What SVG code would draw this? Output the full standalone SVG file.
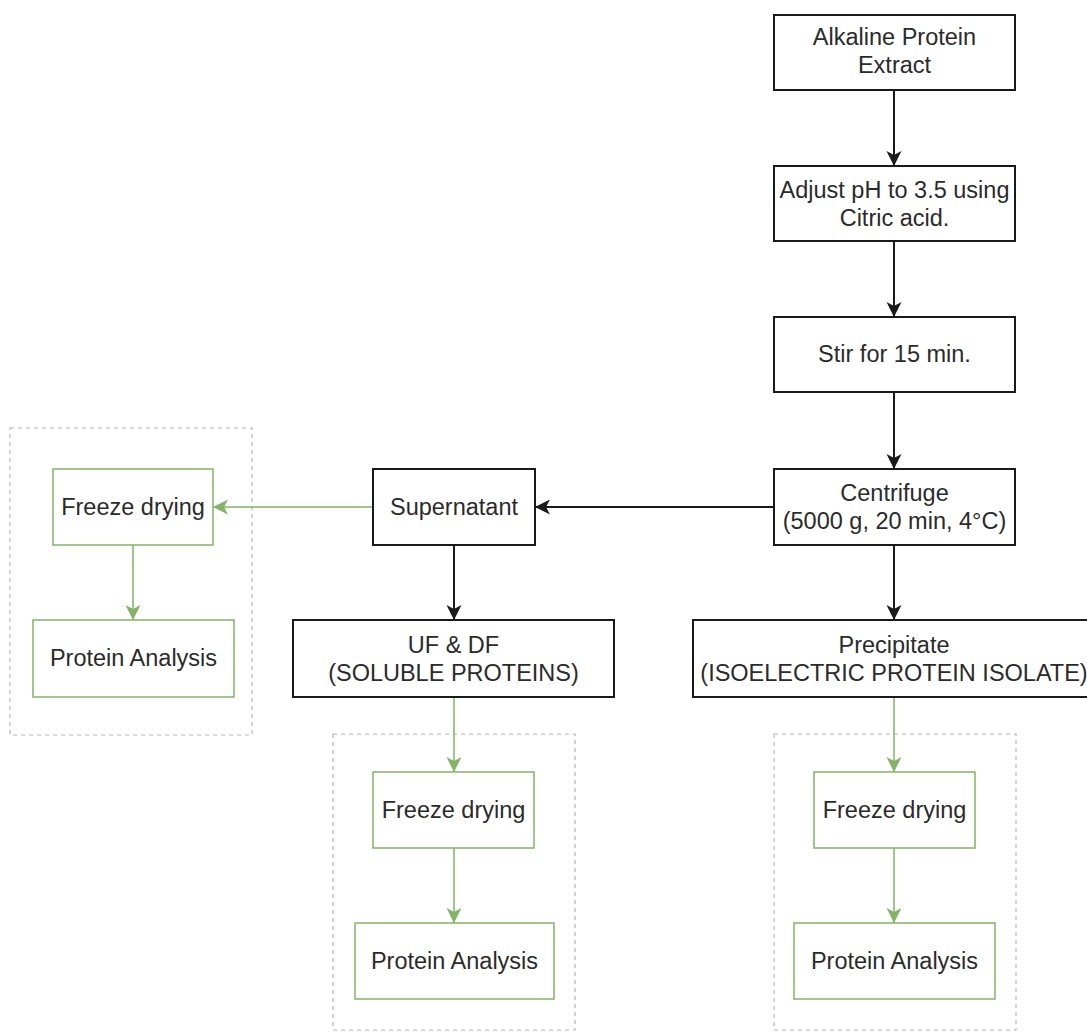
<svg xmlns="http://www.w3.org/2000/svg" width="1087" height="1033" viewBox="0 0 1087 1033">
<style>
.bk{fill:#fff;stroke:#1a1a1a;stroke-width:2}
.gr{fill:#fff;stroke:#82b366;stroke-width:1.5}
.dash{fill:none;stroke:#b3b3b3;stroke-width:1.2;stroke-dasharray:4 4}
text{font-family:"Liberation Sans",Arial,sans-serif;font-size:23.5px;fill:#2b2b2b;text-anchor:middle}
.cb{stroke:#1a1a1a;stroke-width:2;fill:none}
.cg{stroke:#82b366;stroke-width:1.5;fill:none}
</style>
<defs>
<marker id="ab" markerUnits="userSpaceOnUse" markerWidth="16" markerHeight="16" refX="15" refY="7.5" orient="auto"><path d="M0,0 L15,7.5 L0,15 L4,7.5 Z" fill="#1a1a1a"/></marker>
<marker id="ag" markerUnits="userSpaceOnUse" markerWidth="16" markerHeight="16" refX="15" refY="7.5" orient="auto"><path d="M0,0 L15,7.5 L0,15 L4,7.5 Z" fill="#82b366"/></marker>
</defs>
<rect width="1087" height="1033" fill="#fff"/>
<g id="containers">
<rect class="dash" x="10" y="428" width="242" height="307"/>
<rect class="dash" x="333" y="734" width="242" height="296"/>
<rect class="dash" x="774" y="734" width="242" height="296"/>
</g>
<g id="connectors">
<line class="cb" x1="894" y1="90" x2="894" y2="166" marker-end="url(#ab)"/>
<line class="cb" x1="894" y1="241" x2="894" y2="317" marker-end="url(#ab)"/>
<line class="cb" x1="894" y1="392" x2="894" y2="469" marker-end="url(#ab)"/>
<line class="cb" x1="774" y1="507" x2="535" y2="507" marker-end="url(#ab)"/>
<line class="cb" x1="894" y1="545" x2="894" y2="620" marker-end="url(#ab)"/>
<line class="cb" x1="454" y1="545" x2="454" y2="620" marker-end="url(#ab)"/>
<line class="cg" x1="373" y1="507" x2="213" y2="507" marker-end="url(#ag)"/>
<line class="cg" x1="133" y1="545" x2="133" y2="620" marker-end="url(#ag)"/>
<line class="cg" x1="454" y1="697" x2="454" y2="772" marker-end="url(#ag)"/>
<line class="cg" x1="454" y1="848" x2="454" y2="923" marker-end="url(#ag)"/>
<line class="cg" x1="894" y1="697" x2="894" y2="772" marker-end="url(#ag)"/>
<line class="cg" x1="894" y1="848" x2="894" y2="923" marker-end="url(#ag)"/>
</g>
<g id="n-alkaline"><rect class="bk" x="774" y="15" width="241" height="75"/><text x="894.5" y="45">Alkaline Protein</text><text x="894.5" y="73">Extract</text></g>
<g id="n-adjust"><rect class="bk" x="774" y="166" width="241" height="75"/><text x="894.5" y="198">Adjust pH to 3.5 using</text><text x="894.5" y="226">Citric acid.</text></g>
<g id="n-stir"><rect class="bk" x="774" y="317" width="241" height="75"/><text x="894.5" y="362">Stir for 15 min.</text></g>
<g id="n-centrifuge"><rect class="bk" x="774" y="469" width="241" height="76"/><text x="894.5" y="501">Centrifuge</text><text x="894.5" y="529">(5000 g, 20 min, 4°C)</text></g>
<g id="n-supernatant"><rect class="bk" x="373" y="469" width="162" height="76"/><text x="454" y="515">Supernatant</text></g>
<g id="n-ufdf"><rect class="bk" x="293" y="620" width="321" height="77"/><text x="453.5" y="652.5">UF &amp; DF</text><text x="453.5" y="680.5">(SOLUBLE PROTEINS)</text></g>
<g id="n-precipitate"><rect class="bk" x="693" y="620" width="402" height="77"/><text x="894" y="652.5">Precipitate</text><text x="894" y="680.5">(ISOELECTRIC PROTEIN ISOLATE)</text></g>
<g id="n-fd-left"><rect class="gr" x="53" y="469" width="160" height="76"/><text x="133" y="515">Freeze drying</text></g>
<g id="n-pa-left"><rect class="gr" x="33" y="620" width="201" height="77"/><text x="133.5" y="666">Protein Analysis</text></g>
<g id="n-fd-mid"><rect class="gr" x="373" y="772" width="161" height="76"/><text x="453.5" y="818">Freeze drying</text></g>
<g id="n-pa-mid"><rect class="gr" x="355" y="923" width="199" height="76"/><text x="454.5" y="969">Protein Analysis</text></g>
<g id="n-fd-right"><rect class="gr" x="814" y="772" width="161" height="76"/><text x="894.5" y="818">Freeze drying</text></g>
<g id="n-pa-right"><rect class="gr" x="794" y="923" width="201" height="76"/><text x="894.5" y="969">Protein Analysis</text></g>
</svg>
